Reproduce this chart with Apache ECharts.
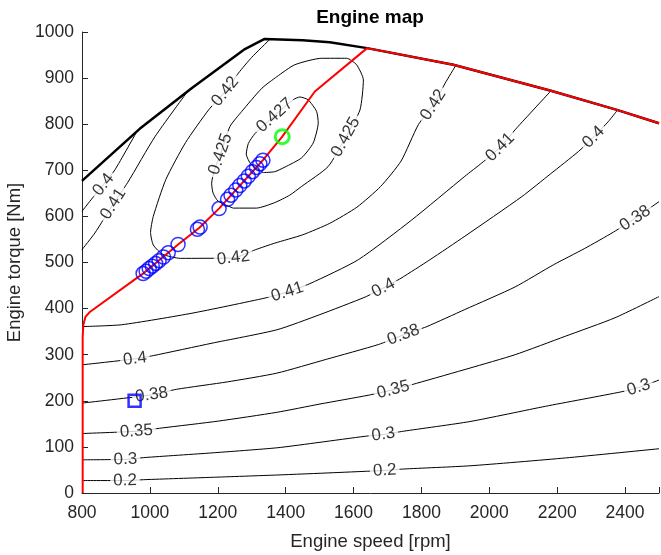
<!DOCTYPE html>
<html><head><meta charset="utf-8">
<script src="https://cdn.jsdelivr.net/npm/echarts@6/dist/echarts.min.js"></script>
<style>html,body{margin:0;padding:0;background:#fff}#c{width:661px;height:555px}</style>
</head><body><div id="c"></div>
<script>
// ---------- data ----------
const xTicks = [800,1000,1200,1400,1600,1800,2000,2200,2400];
const yTicks = [0,100,200,300,400,500,600,700,800,900,1000];

// efficiency contours [rpm, Nm]
const c020 = [[800,27],[927,27],[986,29],[1183,34],[1374,39],[1540,44],[1692,49],[1747,52],[1943,59],[2224,76],[2500,96]];
const c030 = [[800,72],[928,73],[986,77],[1183,87],[1374,98],[1501,110],[1634,123],[1688,127],[1747,134],[1943,155],[2165,188],[2386,219],[2440,229],[2500,245]];
const c035 = [[800,129],[960,134],[1035,141],[1202,156],[1374,175],[1501,193],[1643,212],[1717,224],[1786,238],[1943,271],[2076,300],[2224,340],[2370,380],[2500,426]];
const c038 = [[800,195],[1005,213],[1079,225],[1228,241],[1374,260],[1520,290],[1673,322],[1747,343],[1816,361],[1928,398],[2076,447],[2189,495],[2280,530],[2366,566],[2430,596],[2500,632]];
const c040 = [[800,278],[956,291],[1010,298],[1183,325],[1374,354],[1501,387],[1634,425],[1688,445],[1740,466],[1825,506],[1928,557],[2096,643],[2180,692],[2263,741],[2307,772],[2351,806],[2376,829]];
const c041 = [[800,361],[917,365],[1124,390],[1340,423],[1405,436],[1471,454],[1614,506],[1771,592],[1928,687],[1978,716],[2032,750],[2081,792],[2180,871]];
const c042 = [[1352,983],[1300,945],[1261,911],[1222,871],[1173,831],[1105,760],[1047,680],[1010,600],[1002,565],[1010,538],[1037,518],[1090,509],[1246,510],[1312,528],[1368,542],[1450,560],[1530,585],[1610,620],[1680,665],[1740,720],[1791,799],[1835,842],[1870,889],[1900,926]];
const c0425 = [[1245,618],[1201,633],[1186,651],[1182,672],[1190,700],[1208,735],[1236,795],[1271,828],[1330,878],[1374,903],[1427,929],[1506,943],[1580,943],[1609,929],[1629,896],[1619,831],[1577,772],[1525,708],[1447,665],[1412,646],[1368,630],[1314,618],[1245,618]];
const c0427 = [[1334,695],[1368,697],[1398,707],[1447,727],[1481,759],[1496,803],[1491,828],[1466,853],[1442,859],[1422,853],[1368,819],[1310,780],[1290,758],[1284,735],[1298,713],[1334,695]];
const c040ul = [[800,611],[819,629],[863,669],[897,701],[963,786]];
const c041ul = [[800,528],[838,564],[892,627],[935,674],[1015,773],[1113,873]];

// contour labels [rpm, Nm, text]
const contourLabels = [
  [927,27,'0.2'],[1692,49,'0.2'],
  [928,73,'0.3'],[1688,127,'0.3'],[2440,229,'0.3'],
  [960,134,'0.35'],[1717,224,'0.35'],
  [1005,213,'0.38'],[1747,343,'0.38'],[2430,596,'0.38'],
  [956,291,'0.4'],[1688,445,'0.4'],[2307,772,'0.4'],[863,669,'0.4'],
  [1405,436,'0.41'],[2032,750,'0.41'],[892,627,'0.41'],
  [1246,510,'0.42'],[1222,871,'0.42'],[1835,842,'0.42'],
  [1208,735,'0.425'],[1577,772,'0.425'],
  [1368,819,'0.427']
];

// max torque curve
const maxTorque = [[800,677],[970,790],[1123,878],[1280,963],[1338,985],[1450,982],[1530,978],[1640,965],[1894,929],[2179,873],[2376,831],[2500,802]];
// optimal operating line
const optLine = [[802,0],[802,340],[804,365],[810,382],[822,392],[961,466],[980,476],[1085,540],[1145,575],[1205,618],[1333,722],[1390,773],[1486,871],[1640,965],[1894,929],[2179,873],[2376,831],[2500,802]];
// operating points
const opSpeed  = [980,989,998,1007,1017,1027,1040,1054,1083,1140,1148,1204,1229,1239,1253,1265,1278,1290,1302,1314,1324,1333];
const opTorque = [476,481,487,492,498,504,512,521,539,572,577,617,637,646,657,667,677,687,697,706,714,722];
const optimumPoint = [1390,773];
const startPoint = [955,200];

// ---------- chart ----------
const FONT = 'Liberation Sans, Arial, Helvetica, sans-serif';
const contours = [c020,c030,c035,c038,c040,c041,c042,c0425,c0427,c040ul,c041ul];
const chart = echarts.init(document.getElementById('c'), null, {renderer:'canvas'});

const axisCommon = {
  type:'value',
  axisLine:{show:true,onZero:false,lineStyle:{color:'#262626',width:1}},
  axisTick:{show:true,inside:true,length:6,lineStyle:{color:'#262626',width:1}},
  axisLabel:{color:'#262626',fontSize:17.5,fontFamily:FONT,margin:8,formatter:v=>String(v)},
  splitLine:{show:false},
  nameLocation:'middle',
  nameTextStyle:{color:'#262626',fontSize:18.5,fontFamily:FONT}
};

const series = [];
contours.forEach(c => series.push({
  type:'line', data:c, showSymbol:false, symbol:'none', smooth:0.2,
  lineStyle:{color:'#000',width:1}, z:2, silent:true
}));
series.push({
  type:'line', data:maxTorque, showSymbol:false, symbol:'none',
  lineStyle:{color:'#000',width:2.5}, z:4, silent:true
});
series.push({
  type:'line', data:optLine, showSymbol:false, symbol:'none',
  lineStyle:{color:'#ff0000',width:2}, z:5, silent:true
});
series.push({
  type:'scatter', data:opSpeed.map((s,i)=>[s,opTorque[i]]), symbol:'circle', symbolSize:14,
  itemStyle:{color:'transparent',borderColor:'#0000ff',borderWidth:1.5}, z:6, silent:true
});
series.push({
  type:'scatter', data:[optimumPoint], symbol:'circle', symbolSize:14,
  itemStyle:{color:'transparent',borderColor:'#00ff00',borderWidth:3}, z:7, silent:true
});
series.push({
  type:'scatter', data:[startPoint], symbol:'rect', symbolSize:12,
  itemStyle:{color:'transparent',borderColor:'#0000ff',borderWidth:2.5}, z:7, silent:true
});
const labelSeriesIndex = series.length;
series.push({
  type:'scatter', symbolSize:1, itemStyle:{color:'transparent'}, z:3, silent:true,
  data: contourLabels.map(l => ({value:[l[0],l[1]], name:l[2]})),
  label:{show:true, position:'inside', formatter:p=>p.name, color:'#000', fontSize:17,
         fontFamily:FONT, backgroundColor:'#fff', padding:[0,3]}
});

const option = {
  animation:false,
  backgroundColor:'#fff',
  title:{text:'Engine map', left:370, top:8, textAlign:'center', padding:0,
         textStyle:{fontSize:19,fontWeight:'bold',color:'#000',fontFamily:FONT}},
  grid:{left:82, right:2, top:32, bottom:62, containLabel:false, outerBoundsMode:'none'},
  xAxis: Object.assign({}, axisCommon, {
    min:800, max:2500, interval:200,
    axisLabel:Object.assign({}, axisCommon.axisLabel, {customValues:xTicks, margin:11}),
    name:'Engine speed [rpm]', nameGap:39
  }),
  yAxis: Object.assign({}, axisCommon, {
    min:0, max:1000, interval:100,
    name:'Engine torque [Nm]', nameGap:44
  }),
  series: series
};
chart.setOption(option);

// rotate labels along their contour (direction taken from the contour's neighbouring vertices, in pixels)
function toPx(p){ return chart.convertToPixel({gridIndex:0}, p); }
const rotated = contourLabels.map(l => {
  const P = toPx([l[0],l[1]]);
  let best = null, bd = Infinity;
  contours.forEach(c => {
    c.forEach((v,i) => {
      const Q = toPx(v);
      const d = Math.hypot(Q[0]-P[0], Q[1]-P[1]);
      if (d < bd) { bd = d; best = [c,i]; }
    });
  });
  const c = best[0], i = best[1];
  const A = toPx(c[Math.max(0,i-1)]), B = toPx(c[Math.min(c.length-1,i+1)]);
  let ang = -Math.atan2(B[1]-A[1], B[0]-A[0]) * 180 / Math.PI;
  if (ang > 90) ang -= 180;
  if (ang < -90) ang += 180;
  return {value:[l[0],l[1]], name:l[2], label:{rotate:ang}};
});
series[labelSeriesIndex].data = rotated;
chart.setOption({series:series});
</script>
</body></html>
